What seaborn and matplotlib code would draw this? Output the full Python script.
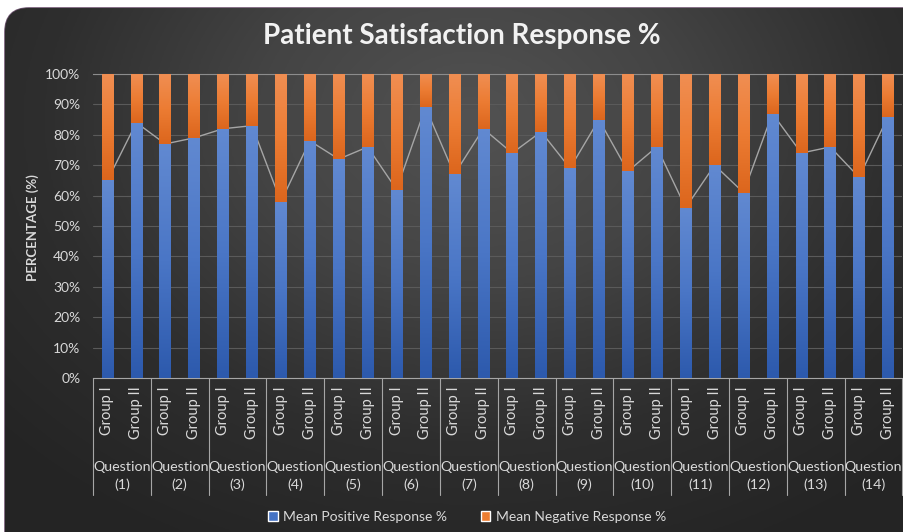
import numpy as np
import pandas as pd
import matplotlib
matplotlib.use("Agg")
import matplotlib.pyplot as plt
import matplotlib.transforms as mtrans
from matplotlib.patches import FancyBboxPatch, Patch
from matplotlib.colors import LinearSegmentedColormap
import seaborn as sns

# values
questions = ["(1)", "(2)", "(3)", "(4)", "(5)", "(6)", "(7)",
             "(8)", "(9)", "(10)", "(11)", "(12)", "(13)", "(14)"]
groups = ["Group I", "Group II"]
positive = [65, 84, 77, 79, 82, 83, 58, 78, 72, 76, 62, 89, 67, 82,
            74, 81, 69, 85, 68, 76, 56, 70, 61, 87, 74, 76, 66, 86]
negative = [35, 16, 23, 21, 18, 17, 42, 22, 28, 24, 38, 11, 33, 18,
            26, 19, 31, 15, 32, 24, 44, 30, 39, 13, 26, 24, 34, 14]
yticks = [0, 10, 20, 30, 40, 50, 60, 70, 80, 90, 100]

BLUE = "#4472C4"
ORANGE = "#ED7D31"
TXT = "#d9d9d9"

sns.set_theme(style="dark")
plt.rcParams["font.family"] = ["Lato", "DejaVu Sans"]

df = pd.DataFrame({
    "slot": np.arange(len(positive)),
    "question": np.repeat(questions, 2),
    "group": groups * len(questions),
    "positive": positive,
    "negative": negative,
})
df["total"] = df["positive"] + df["negative"]

fig = plt.figure(figsize=(9.04, 5.32), dpi=100, facecolor="white")

# dark rounded background panel with a soft radial glow
bg = fig.add_axes([0, 0, 1, 1], zorder=-5)
bg.set_xlim(0, 904)
bg.set_ylim(532, 0)
bg.axis("off")
yy, xx = np.mgrid[0:532:2, 0:904:2]
d = np.sqrt(((xx - 470) / 640.0) ** 2 + ((yy - 120) / 480.0) ** 2)
bg_cmap = LinearSegmentedColormap.from_list("bg", ["#525252", "#444444", "#2e2e2e", "#242424"])
panel = FancyBboxPatch((5, 8), 960, 580, boxstyle="round,pad=0,rounding_size=24",
                       facecolor="#333333", edgecolor="#6e5470", lw=1.2, zorder=1)
bg.add_patch(panel)
im = bg.imshow(np.clip(d, 0, 1), extent=(0, 904, 532, 0), cmap=bg_cmap,
               aspect="auto", interpolation="bicubic", vmin=0, vmax=1, zorder=2)
im.set_clip_path(panel)

ax = fig.add_axes([93 / 904, 1 - 378 / 532, (902.5 - 93) / 904, (378 - 74) / 532])
ax.set_facecolor("none")

sns.barplot(data=df, x="slot", y="total", color=ORANGE, saturation=1,
            width=0.4, ax=ax, zorder=3, linewidth=0)
sns.barplot(data=df, x="slot", y="positive", color=BLUE, saturation=1,
            width=0.4, ax=ax, zorder=3, linewidth=0)
sns.lineplot(data=df, x="slot", y="positive", color="#a6a6a6", lw=1.0,
             ax=ax, zorder=2)

# vertical gradient shading on each bar segment
n = len(df)
blue_cmap = LinearSegmentedColormap.from_list("b", ["#2d5aad", "#4a76c6", "#6189d1"])
orng_cmap = LinearSegmentedColormap.from_list("o", ["#dc661d", "#ec7c33", "#f08e52"])
grad = np.linspace(0, 1, 64)[:, None]
for i, p in enumerate(ax.patches[:2 * n]):
    x0, w = p.get_x(), p.get_width()
    if i < n:
        y0, y1, cm = ax.patches[n + i].get_height(), p.get_height(), orng_cmap
    else:
        y0, y1, cm = 0, p.get_height(), blue_cmap
    g = ax.imshow(grad, extent=(x0, x0 + w, y0, y1), origin="lower", cmap=cm,
                  aspect="auto", interpolation="bicubic", zorder=3.5)
    g.set_clip_path(p)

ax.set_xlim(-0.5, n - 0.5)
ax.set_ylim(0, 100)
ax.set_yticks(yticks)
ax.set_yticklabels([f"{v}%" for v in yticks])
ax.yaxis.grid(True, color="#5a5a5a", lw=0.8)
ax.xaxis.grid(False)
ax.tick_params(axis="y", length=0, pad=9, labelsize=10, labelcolor=TXT)
ax.set_xticks(df["slot"])
ax.set_xticklabels(df["group"], rotation=90, fontsize=10.5, color=TXT)
ax.tick_params(axis="x", length=0, pad=6)
ax.set_xlabel("")
ax.set_ylabel("")
for s in ["left", "right"]:
    ax.spines[s].set_visible(False)
ax.spines["top"].set_color("#8c8c8c")
ax.spines["top"].set_linewidth(0.8)
ax.spines["bottom"].set_color("#a6a6a6")
ax.spines["bottom"].set_linewidth(0.8)

# multi-level category axis: separators and question labels
tr = mtrans.blended_transform_factory(ax.transData, ax.transAxes)
for k in range(len(questions) + 1):
    ax.plot([2 * k - 0.5] * 2, [0, -0.385], transform=tr, clip_on=False,
            color="#a6a6a6", lw=0.8)
for k, q in enumerate(questions):
    ax.text(2 * k + 0.5, -0.322, f"Question\n{q}", transform=tr, ha="center",
            va="center", fontsize=10.3, color=TXT, linespacing=1.45)

fig.text(462 / 904, 1 - 36 / 532, "Patient Satisfaction Response %",
         ha="center", va="center", fontsize=20, fontweight="bold", color="#f2f2f2")
fig.text(33 / 904, 1 - 228 / 532, "PERCENTAGE (%)", rotation=90, ha="center",
         va="center", fontsize=9.5, fontweight="bold", color=TXT)

handles = [Patch(facecolor=BLUE, label="Mean Positive Response %"),
           Patch(facecolor=ORANGE, label="Mean Negative Response %")]
fig.legend(handles=handles, loc="center", bbox_to_anchor=(467 / 904, 1 - 517 / 532),
           ncol=2, frameon=False, fontsize=10, labelcolor=TXT, handlelength=0.7,
           handleheight=0.7, handletextpad=0.4, columnspacing=2.4)

fig.savefig("out.png", dpi=100, facecolor="white")
